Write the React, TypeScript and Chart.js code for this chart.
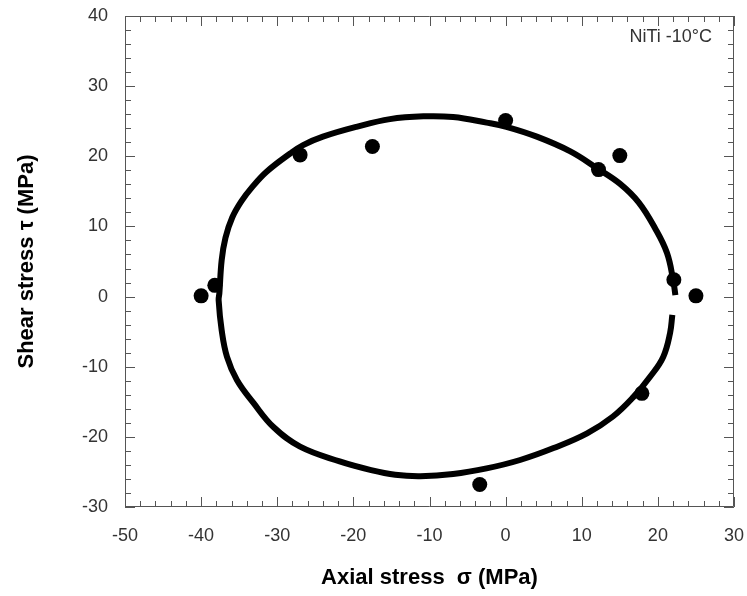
import React, { useEffect, useRef } from "react";
import { Chart, registerables } from "chart.js";

Chart.register(...registerables);

// Fitted curve, drawn as an open loop
const curveX = [21.9, 21.6, 20.7, 19.0, 16.8, 14.1, 10.7, 6.3, 1.9, -2.5, -6.9, -11.2, -14.5, -17.8, -21.8, -27.0, -30.5, -33.1, -35.3, -36.6, -37.3, -37.7, -37.6, -37.3, -36.8, -35.9, -34.7, -33.3, -31.4, -28.3, -26.6, -24.0, -19.6, -15.2, -10.8, -6.9, -2.5, 0.1, 4.1, 8.5, 12.0, 15.0, 17.5, 19.7, 21.2, 22.0, 22.3];
const curveY = [-2.6, -5.2, -8.6, -11.4, -14.3, -17.1, -19.5, -21.6, -23.3, -24.5, -25.3, -25.6, -25.4, -24.7, -23.5, -21.4, -18.6, -15.2, -11.9, -8.6, -4.8, -0.5, 0.5, 5.2, 8.4, 11.3, 13.6, 15.6, 17.8, 20.4, 21.6, 22.8, 24.2, 25.3, 25.7, 25.6, 24.8, 24.2, 22.8, 20.7, 18.3, 16.1, 13.4, 9.6, 6.2, 2.4, 0.2];

// Measured points
const pointX = [-40.0, -38.2, -27.0, -17.5, 0.0, 12.2, 15.0, 22.1, 25.0, 17.9, -3.4];
const pointY = [0.1, 1.6, 20.2, 21.4, 25.1, 18.1, 20.1, 2.4, 0.1, -13.8, -26.8];

const xTickValues = [-50, -40, -30, -20, -10, 0, 10, 20, 30];
const yTickValues = [-30, -20, -10, 0, 10, 20, 30, 40];

const annotationText = "NiTi -10°C";
const xTitle = "Axial stress  σ (MPa)";
const yTitle = "Shear stress τ (MPa)";

const FONT = "'Liberation Sans', Arial, sans-serif";

const framePlugin = {
  id: "frameTicks",
  afterDatasetsDraw(chart: any) {
    const { ctx, chartArea, scales } = chart;
    const { left, right, top, bottom } = chartArea;
    const xs = scales.x;
    const ys = scales.y;
    ctx.save();
    ctx.strokeStyle = "#555";
    ctx.lineWidth = 1;
    ctx.beginPath();
    ctx.rect(Math.round(left) + 0.5, Math.round(top) + 0.5, Math.round(right - left) - 1, Math.round(bottom - top) - 1);
    ctx.stroke();
    ctx.beginPath();
    const xmin = xTickValues[0];
    const xmax = xTickValues[xTickValues.length - 1];
    for (let v = xmin; v <= xmax; v += 2) {
      const major = v % 10 === 0;
      const len = major ? 10 : 6;
      const px = Math.round(xs.getPixelForValue(v)) + 0.5;
      ctx.moveTo(px, bottom);
      ctx.lineTo(px, bottom - len);
      ctx.moveTo(px, top);
      ctx.lineTo(px, top + len);
    }
    const ymin = yTickValues[0];
    const ymax = yTickValues[yTickValues.length - 1];
    for (let v = ymin; v <= ymax; v += 2) {
      const major = v % 10 === 0;
      const len = major ? 10 : 6;
      const py = Math.round(ys.getPixelForValue(v)) + 0.5;
      ctx.moveTo(left, py);
      ctx.lineTo(left + len, py);
      ctx.moveTo(right, py);
      ctx.lineTo(right - len, py);
    }
    ctx.stroke();
    ctx.fillStyle = "#333";
    ctx.font = `18px ${FONT}`;
    ctx.textAlign = "right";
    ctx.textBaseline = "middle";
    ctx.fillText(annotationText, right - 22, top + 21);
    ctx.restore();
  },
};

export default function App() {
  const ref = useRef<HTMLCanvasElement | null>(null);

  useEffect(() => {
    if (!ref.current) return;
    const curve = curveX.map((x, i) => ({ x, y: curveY[i] }));
    const pts = pointX.map((x, i) => ({ x, y: pointY[i] }));
    const chart = new Chart(ref.current, {
      type: "scatter",
      data: {
        datasets: [
          {
            label: "fit",
            data: curve,
            showLine: true,
            borderColor: "#000",
            borderWidth: 6,
            pointRadius: 0,
            tension: 0.4,
            fill: false,
          } as any,
          {
            label: "data",
            data: pts,
            backgroundColor: "#000",
            borderColor: "#000",
            pointRadius: 7.5,
            borderWidth: 0,
          },
        ],
      },
      options: {
        animation: false,
        responsive: false,
        maintainAspectRatio: false,
        layout: { padding: { left: 0, top: 16, right: 13, bottom: 0 } },
        plugins: { legend: { display: false }, tooltip: { enabled: false } },
        scales: {
          x: {
            type: "linear",
            min: xTickValues[0],
            max: xTickValues[xTickValues.length - 1],
            afterBuildTicks: (s: any) => {
              s.ticks = xTickValues.map((v) => ({ value: v }));
            },
            afterFit: (s: any) => {
              s.height = 89;
              s.paddingLeft = 0;
              s.paddingRight = 0;
            },
            grid: { display: false, drawTicks: false },
            border: { display: false },
            ticks: {
              padding: 18,
              color: "#333",
              font: { family: FONT, size: 18 },
              maxRotation: 0,
            },
            title: {
              display: true,
              text: xTitle,
              color: "#000",
              font: { family: FONT, size: 22, weight: "bold" },
              padding: { top: 0, bottom: 5 },
            },
          },
          y: {
            type: "linear",
            min: yTickValues[0],
            max: yTickValues[yTickValues.length - 1],
            afterBuildTicks: (s: any) => {
              s.ticks = yTickValues.map((v) => ({ value: v }));
            },
            afterFit: (s: any) => {
              s.width = 125;
              s.paddingTop = 0;
              s.paddingBottom = 0;
            },
            grid: { display: false, drawTicks: false },
            border: { display: false },
            ticks: {
              padding: 17,
              color: "#333",
              font: { family: FONT, size: 18 },
            },
            title: {
              display: true,
              text: yTitle,
              color: "#000",
              font: { family: FONT, size: 22, weight: "bold" },
              padding: { top: 14, bottom: 0 },
            },
          },
        },
      },
      plugins: [framePlugin],
    });
    return () => chart.destroy();
  }, []);

  return (
    <div style={{ position: "fixed", left: 0, top: 0, width: 747, height: 596, background: "#fff" }}>
      <canvas ref={ref} width={747} height={596} style={{ width: 747, height: 596, display: "block" }} />
    </div>
  );
}
